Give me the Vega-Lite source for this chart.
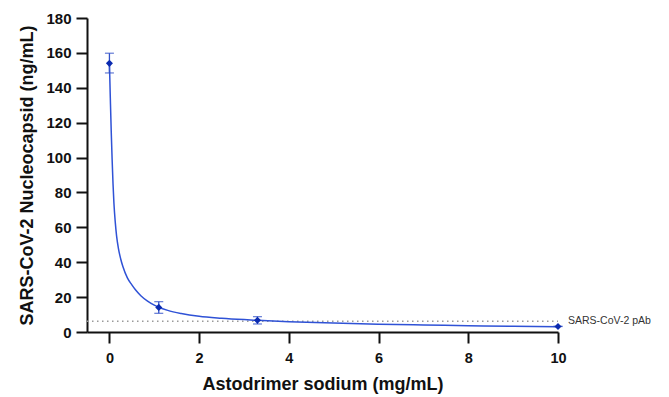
{
  "$schema": "https://vega.github.io/schema/vega-lite/v6.json",
  "width": 471,
  "height": 314,
  "autosize": "none",
  "padding": {"left": 87, "top": 18, "right": 111, "bottom": 65},
  "background": "white",
  "config": {
    "view": {"stroke": null},
    "font": "Liberation Sans",
    "axis": {
      "grid": false,
      "domainColor": "#111111",
      "domainWidth": 2,
      "tickColor": "#111111",
      "tickWidth": 2,
      "tickSize": 11,
      "labelOverlap": false,
      "labelFlush": false,
      "labelFont": "Liberation Sans",
      "labelFontWeight": "bold",
      "labelFontSize": 15,
      "labelColor": "#111111",
      "titleFont": "Liberation Sans",
      "titleFontWeight": "bold",
      "titleFontSize": 18,
      "titleColor": "#111111"
    },
    "axisX": {"labelFontSize": 14.5, "labelPadding": 8, "titlePadding": 11},
    "axisY": {"labelPadding": 5, "titlePadding": 9}
  },
  "datasets": {
    "curve": [
      {"x": 0, "y": 154}, {"x": 0.02, "y": 134}, {"x": 0.04, "y": 115}, {"x": 0.06, "y": 99},
      {"x": 0.08, "y": 85}, {"x": 0.1, "y": 74}, {"x": 0.13, "y": 63}, {"x": 0.16, "y": 55}, {"x": 0.2, "y": 48},
      {"x": 0.25, "y": 42}, {"x": 0.3, "y": 37.5}, {"x": 0.4, "y": 31}, {"x": 0.5, "y": 27},
      {"x": 0.58, "y": 24.2}, {"x": 0.7, "y": 20.8}, {"x": 0.85, "y": 17.7}, {"x": 1.0, "y": 15.4},
      {"x": 1.1, "y": 14.2}, {"x": 1.3, "y": 12.4}, {"x": 1.6, "y": 10.6}, {"x": 2, "y": 9.0},
      {"x": 2.5, "y": 7.9}, {"x": 3, "y": 7.1}, {"x": 3.3, "y": 6.7}, {"x": 4, "y": 5.9},
      {"x": 5, "y": 5.1}, {"x": 6, "y": 4.5}, {"x": 7, "y": 4.0}, {"x": 8, "y": 3.6},
      {"x": 9, "y": 3.3}, {"x": 10, "y": 3.0}
    ],
    "points": [
      {"x": 0, "y": 154, "lo": 148.5, "hi": 159.8},
      {"x": 1.1, "y": 14.1, "lo": 10.7, "hi": 17.4},
      {"x": 3.3, "y": 6.7, "lo": 4.6, "hi": 8.8},
      {"x": 10, "y": 3.2, "lo": 3.2, "hi": 3.2}
    ],
    "ref": [{"x1": -0.5, "x2": 10, "y": 6.1, "label": "SARS-CoV-2 pAb"}]
  },
  "layer": [
    {
      "data": {"name": "ref"},
      "mark": {"type": "rule", "color": "#9a9a9a", "strokeDash": [1.5, 3.5], "strokeWidth": 1.5},
      "encoding": {
        "x": {"field": "x1", "type": "quantitative", "scale": {"domain": [-0.5, 10], "nice": false, "zero": false},
          "axis": {"values": [0, 2, 4, 6, 8, 10], "title": "Astodrimer sodium (mg/mL)"}},
        "x2": {"field": "x2"},
        "y": {"field": "y", "type": "quantitative", "scale": {"domain": [0, 180], "nice": false},
          "axis": {"values": [0, 20, 40, 60, 80, 100, 120, 140, 160, 180], "title": "SARS-CoV-2 Nucleocapsid (ng/mL)"}}
      }
    },
    {
      "data": {"name": "ref"},
      "mark": {"type": "text", "align": "left", "baseline": "middle", "dx": 10, "fontSize": 10.5, "color": "#333333", "font": "Liberation Sans"},
      "encoding": {
        "x": {"field": "x2", "type": "quantitative", "axis": {"values": [0, 2, 4, 6, 8, 10], "title": "Astodrimer sodium (mg/mL)"}},
        "y": {"field": "y", "type": "quantitative", "axis": {"values": [0, 20, 40, 60, 80, 100, 120, 140, 160, 180], "title": "SARS-CoV-2 Nucleocapsid (ng/mL)"}},
        "text": {"field": "label"}
      }
    },
    {
      "data": {"name": "curve"},
      "mark": {"type": "line", "color": "#2f52d6", "strokeWidth": 1.5, "interpolate": "monotone"},
      "encoding": {
        "x": {"field": "x", "type": "quantitative", "axis": {"values": [0, 2, 4, 6, 8, 10], "title": "Astodrimer sodium (mg/mL)"}},
        "y": {"field": "y", "type": "quantitative", "axis": {"values": [0, 20, 40, 60, 80, 100, 120, 140, 160, 180], "title": "SARS-CoV-2 Nucleocapsid (ng/mL)"}}
      }
    },
    {
      "data": {"name": "points"},
      "mark": {"type": "rule", "color": "#3050c8", "strokeWidth": 1.3},
      "encoding": {
        "x": {"field": "x", "type": "quantitative", "axis": {"values": [0, 2, 4, 6, 8, 10], "title": "Astodrimer sodium (mg/mL)"}},
        "y": {"field": "lo", "type": "quantitative", "axis": {"values": [0, 20, 40, 60, 80, 100, 120, 140, 160, 180], "title": "SARS-CoV-2 Nucleocapsid (ng/mL)"}},
        "y2": {"field": "hi"}
      }
    },
    {
      "data": {"name": "points"},
      "mark": {"type": "tick", "orient": "horizontal", "color": "#3050c8", "size": 9, "thickness": 1.3},
      "encoding": {
        "x": {"field": "x", "type": "quantitative", "axis": {"values": [0, 2, 4, 6, 8, 10], "title": "Astodrimer sodium (mg/mL)"}},
        "y": {"field": "lo", "type": "quantitative", "axis": {"values": [0, 20, 40, 60, 80, 100, 120, 140, 160, 180], "title": "SARS-CoV-2 Nucleocapsid (ng/mL)"}}
      }
    },
    {
      "data": {"name": "points"},
      "mark": {"type": "tick", "orient": "horizontal", "color": "#3050c8", "size": 9, "thickness": 1.3},
      "encoding": {
        "x": {"field": "x", "type": "quantitative", "axis": {"values": [0, 2, 4, 6, 8, 10], "title": "Astodrimer sodium (mg/mL)"}},
        "y": {"field": "hi", "type": "quantitative", "axis": {"values": [0, 20, 40, 60, 80, 100, 120, 140, 160, 180], "title": "SARS-CoV-2 Nucleocapsid (ng/mL)"}}
      }
    },
    {
      "data": {"name": "points"},
      "mark": {"type": "point", "shape": "diamond", "filled": true, "color": "#0a2ab0", "size": 50, "opacity": 1},
      "encoding": {
        "x": {"field": "x", "type": "quantitative", "axis": {"values": [0, 2, 4, 6, 8, 10], "title": "Astodrimer sodium (mg/mL)"}},
        "y": {"field": "y", "type": "quantitative", "axis": {"values": [0, 20, 40, 60, 80, 100, 120, 140, 160, 180], "title": "SARS-CoV-2 Nucleocapsid (ng/mL)"}}
      }
    }
  ]
}
